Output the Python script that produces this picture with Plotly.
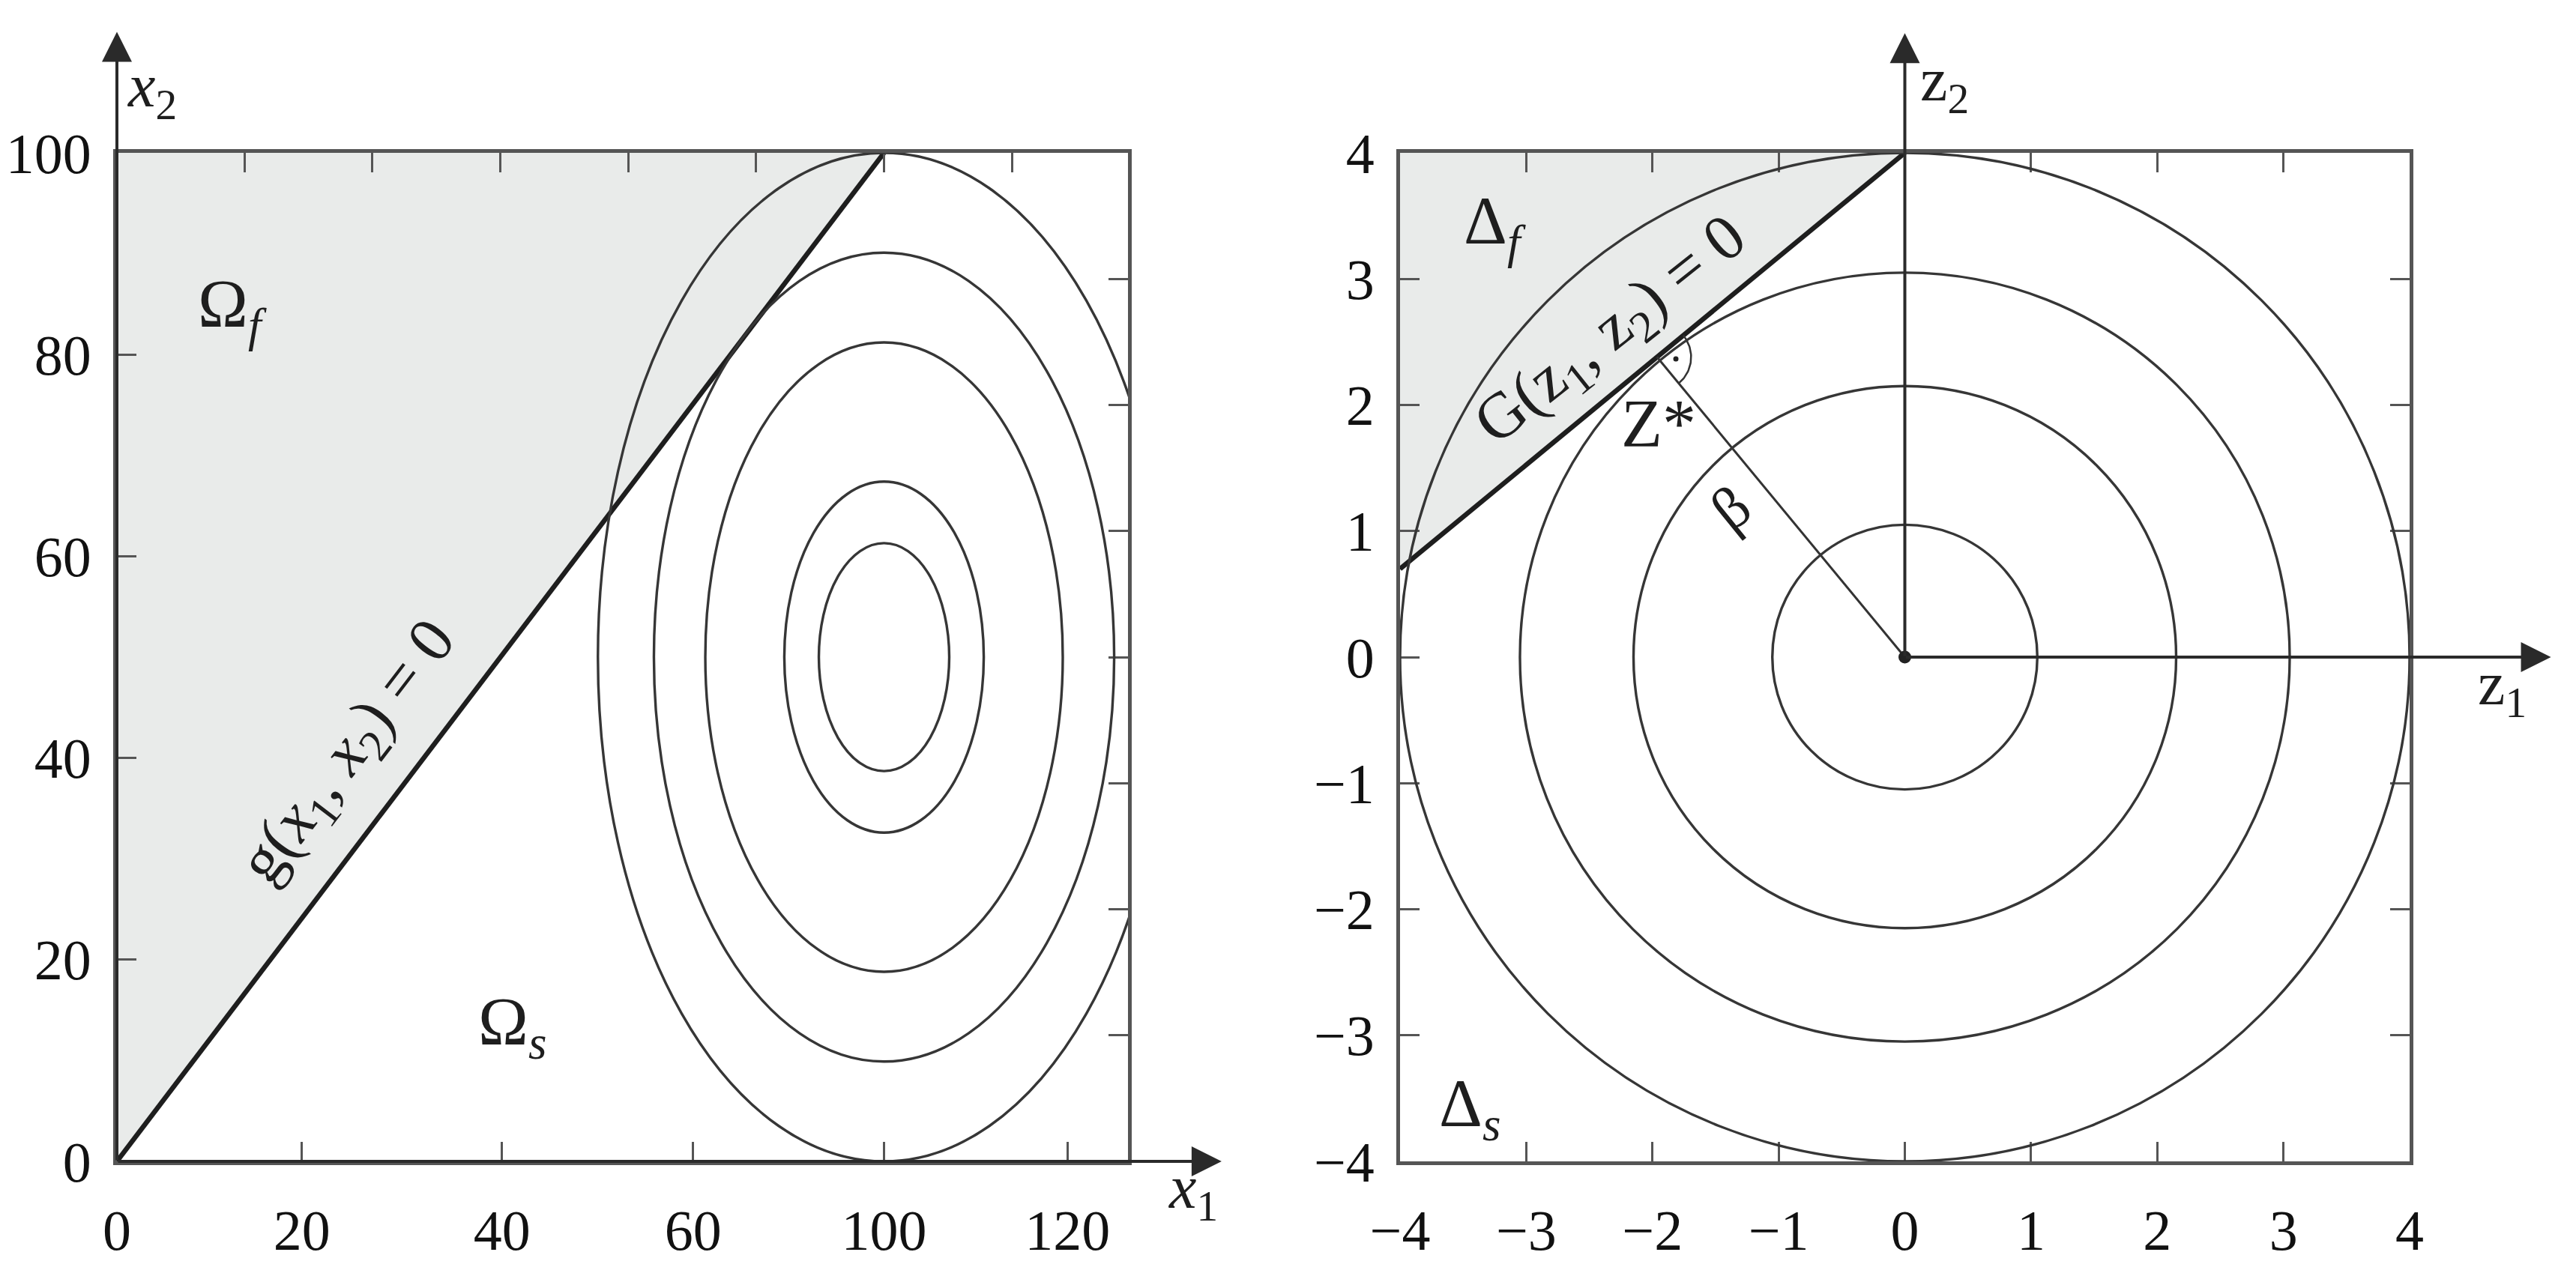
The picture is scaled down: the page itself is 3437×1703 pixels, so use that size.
import numpy as np
import plotly.graph_objects as go

W, H = 3437, 1703
OFF = 8  # page body margin offset
FONT = "Liberation Serif"
INK = "#1e1e1e"
AXC = "#555555"
SHADE = "#e9ebea"

# ---------------- left panel (original space) ----------------
x1_range = [0, 131.8]
x2_range = [0, 100]
x1_tick_vals = [0, 24.1, 50.2, 75.1, 100, 123.9]
x1_tick_text = ["0", "20", "40", "60", "100", "120"]
x2_tick_vals = [0, 20, 40, 60, 80, 100]
x1_top_ticks = [16.7, 33.3, 50.0, 66.7, 83.3, 100.0, 116.7]
x2_right_ticks = [12.5, 25.0, 37.5, 50.0, 62.5, 75.0, 87.5]
ellipse_center = [100, 50]
ellipse_semi_x1 = [8.5, 13.0, 23.3, 30.0, 37.3]
ellipse_semi_x2 = [11.3, 17.4, 31.2, 40.1, 50.0]
g_line_x1 = [0, 100]
g_line_x2 = [0, 100]
fail_x1 = [0, 0, 100]
fail_x2 = [0, 100, 100]
x1_arrow_tip = 144.0
x2_arrow_tip = 112.0

# ---------------- right panel (standard normal space) ----------------
z_range = [-4, 4]
z_ticks = [-4, -3, -2, -1, 0, 1, 2, 3, 4]
circle_radii = [1.05, 2.15, 3.05, 4.0]
G_line_z1 = [-4, 0]
G_line_z2 = [0.7, 4]
fail_z1 = [-4, -4, 0]
fail_z2 = [0.7, 4, 4]
z1_arrow_tip = 5.12
z2_arrow_tip = 4.95

# layout geometry (pixels in the 3437x1703 canvas)
L_x0, L_x1 = 156, 1505
R_x0, R_x1 = 1868, 3215
Y_top, Y_bot = 204, 1550


def px(xp):
    return (xp - OFF) / W


def py(yp):
    return 1 - (yp - OFF) / H


ydom = [py(Y_bot), py(Y_top)]

fig = go.Figure()

# shaded failure regions
fig.add_trace(go.Scatter(x=fail_x1, y=fail_x2, fill="toself", fillcolor=SHADE,
                         mode="lines", line=dict(width=0, color=SHADE),
                         xaxis="x", yaxis="y", hoverinfo="skip"))
fig.add_trace(go.Scatter(x=fail_z1, y=fail_z2, fill="toself", fillcolor=SHADE,
                         mode="lines", line=dict(width=0, color=SHADE),
                         xaxis="x2", yaxis="y2", hoverinfo="skip"))

# limit state lines
fig.add_trace(go.Scatter(x=g_line_x1, y=g_line_x2, mode="lines",
                         line=dict(color=INK, width=6.5), xaxis="x", yaxis="y",
                         hoverinfo="skip"))
fig.add_trace(go.Scatter(x=G_line_z1, y=G_line_z2, mode="lines",
                         line=dict(color=INK, width=6.5), xaxis="x2", yaxis="y2",
                         hoverinfo="skip"))

# design point Z* : foot of perpendicular from origin to G line
m = (G_line_z2[1] - G_line_z2[0]) / (G_line_z1[1] - G_line_z1[0])
b = G_line_z2[1] - m * G_line_z1[1]
zs1 = -m * b / (1 + m * m)
zs2 = b / (1 + m * m)
fig.add_trace(go.Scatter(x=[0, zs1], y=[0, zs2], mode="lines",
                         line=dict(color="#333333", width=3), xaxis="x2", yaxis="y2",
                         hoverinfo="skip"))
# right-angle marker
a_line = np.arctan(m)
a_perp = np.arctan2(-zs2, -zs1)
t = np.linspace(a_perp, a_line, 40)
r_mark = 0.27
fig.add_trace(go.Scatter(x=zs1 + r_mark * np.cos(t), y=zs2 + r_mark * np.sin(t),
                         mode="lines", line=dict(color="#333333", width=2.5),
                         xaxis="x2", yaxis="y2", hoverinfo="skip"))
a_mid = 0.5 * (a_line + a_perp)
fig.add_trace(go.Scatter(x=[zs1 + 0.15 * np.cos(a_mid)], y=[zs2 + 0.15 * np.sin(a_mid)],
                         mode="markers", marker=dict(color="#222222", size=7),
                         xaxis="x2", yaxis="y2", hoverinfo="skip"))
# origin dot
fig.add_trace(go.Scatter(x=[0], y=[0], mode="markers",
                         marker=dict(color="#222222", size=17),
                         xaxis="x2", yaxis="y2", hoverinfo="skip"))
# dummy trace to activate extra tick axes of the left panel
fig.add_trace(go.Scatter(x=[50], y=[50], mode="markers", marker=dict(opacity=0),
                         xaxis="x3", yaxis="y3", hoverinfo="skip"))

# contour ellipses / circles as shapes
shapes = []
for a, bb in zip(ellipse_semi_x1, ellipse_semi_x2):
    shapes.append(dict(type="circle", xref="x", yref="y",
                       x0=ellipse_center[0] - a, x1=ellipse_center[0] + a,
                       y0=ellipse_center[1] - bb, y1=ellipse_center[1] + bb,
                       line=dict(color="#363636", width=3.4), layer="above"))
for r in circle_radii:
    shapes.append(dict(type="circle", xref="x2", yref="y2",
                       x0=-r, x1=r, y0=-r, y1=r,
                       line=dict(color="#363636", width=3.4), layer="above"))

tickfont = dict(family=FONT, size=76, color="#111111")
common = dict(showgrid=False, zeroline=False, showline=True, linecolor=AXC,
              linewidth=5, ticks="inside", ticklen=26, tickwidth=3, tickcolor=AXC,
              tickfont=tickfont, fixedrange=True, automargin=False)

fig.update_layout(
    width=W, height=H, margin=dict(l=0, r=0, t=0, b=0, pad=0, autoexpand=False),
    paper_bgcolor="white", plot_bgcolor="white", showlegend=False,
    shapes=shapes,
    xaxis=dict(domain=[px(L_x0), px(L_x1)], range=x1_range, anchor="y",
               tickmode="array", tickvals=x1_tick_vals, ticktext=x1_tick_text,
               mirror=True, ticklabelstandoff=22, **common),
    yaxis=dict(domain=ydom, range=x2_range, anchor="x",
               tickmode="array", tickvals=x2_tick_vals,
               mirror=True, ticklabelstandoff=14, **common),
    xaxis3=dict(overlaying="x", side="top", anchor="y", range=x1_range,
                tickmode="array", tickvals=x1_top_ticks, showticklabels=False,
                showgrid=False, zeroline=False, showline=False, ticks="inside",
                ticklen=26, tickwidth=3, tickcolor=AXC, fixedrange=True),
    yaxis3=dict(overlaying="y", side="right", anchor="x", range=x2_range,
                tickmode="array", tickvals=x2_right_ticks, showticklabels=False,
                showgrid=False, zeroline=False, showline=False, ticks="inside",
                ticklen=26, tickwidth=3, tickcolor=AXC, fixedrange=True),
    xaxis2=dict(domain=[px(R_x0), px(R_x1)], range=z_range, anchor="y2",
                tickmode="array", tickvals=z_ticks,
                mirror="ticks", ticklabelstandoff=22, **common),
    yaxis2=dict(domain=ydom, range=z_range, anchor="x2",
                tickmode="array", tickvals=z_ticks,
                mirror="ticks", ticklabelstandoff=14, **common),
)

ann = []


def arrow(xref, yref, x, y, ax, ay):
    ann.append(dict(xref=xref, yref=yref, axref=xref, ayref=yref,
                    x=x, y=y, ax=ax, ay=ay, text="", showarrow=True,
                    arrowhead=2, arrowsize=2, arrowwidth=4, arrowcolor="#2a2a2a",
                    standoff=0, startstandoff=0))


arrow("x", "y", 0, x2_arrow_tip, 0, 0)
arrow("x", "y", x1_arrow_tip, 0, 0, 0)
arrow("x2", "y2", 0, z2_arrow_tip, 0, 0)
arrow("x2", "y2", z1_arrow_tip, 0, 0, 0)


def label(text, x, y, size, xref="x", yref="y", angle=0):
    ann.append(dict(xref=xref, yref=yref, x=x, y=y, text=text, showarrow=False,
                    textangle=angle, xanchor="center", yanchor="middle",
                    font=dict(family=FONT, size=size, color=INK)))


# axis names
label("<i>x</i><sub>2</sub>", px(203), py(120), 82, "paper", "paper")
label("<i>x</i><sub>1</sub>", px(1592), py(1590), 82, "paper", "paper")
label("z<sub>2</sub>", px(2594), py(112), 82, "paper", "paper")
label("z<sub>1</sub>", px(3338), py(918), 82, "paper", "paper")

# left panel texts
label("Ω<sub><i>f</i></sub>", 15.0, 84.5, 90)
label("Ω<sub><i>s</i></sub>", 51.5, 13.3, 90)
label("g(<i>x</i><sub>1</sub>, <i>x</i><sub>2</sub>) = 0", 30.3, 40.5, 86, angle=-52.6)

# right panel texts
label("Δ<sub><i>f</i></sub>", -3.25, 3.42, 90, "x2", "y2")
label("Δ<sub><i>s</i></sub>", -3.45, -3.58, 90, "x2", "y2")
label("G(z<sub>1</sub>, z<sub>2</sub>) = 0", -2.32, 2.58, 86, "x2", "y2", angle=-38.5)
label("Z*", -1.95, 1.85, 90, "x2", "y2")
label("β", -1.38, 1.18, 80, "x2", "y2", angle=-39)

fig.update_layout(annotations=ann)
fig.write_html("out.html")
